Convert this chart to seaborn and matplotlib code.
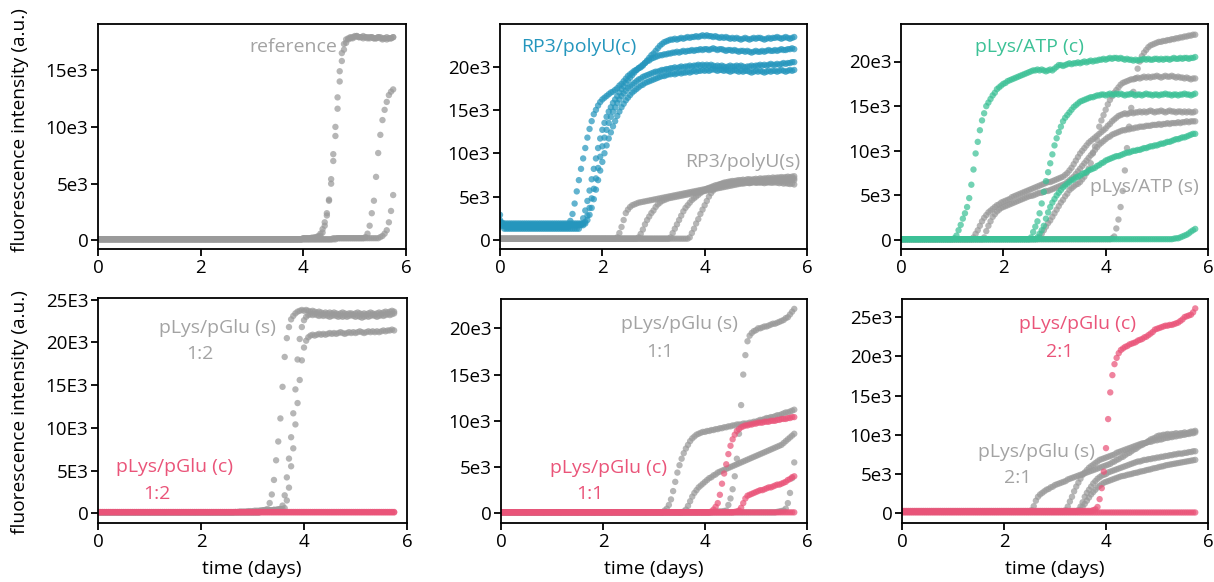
import numpy as np
import pandas as pd
import matplotlib
matplotlib.use("Agg")
import matplotlib.pyplot as plt
from matplotlib.ticker import FuncFormatter
import seaborn as sns

# ---------------- data (fluorescence in units of 1e3 a.u., hourly readings) -------------
N = 139                      # readings 0 .. 138 h  (0 .. 5.75 days)
hours = np.arange(N)

def series(base, tail, head=()):
    head = list(head)
    tail = list(tail)
    return np.array(head + [base] * (N - len(head) - len(tail)) + tail, dtype=float)

# panel 1: reference
ref_a = series(0.1, [0.2, 0.2, 0.2, 0.2, 0.25, 0.25, 0.3, 0.4, 0.6, 1.0, 1.6, 2.4, 3.5, 5.0, 7.0, 9.2, 11.6,
                     14.0, 15.8, 16.8, 17.4, 17.7, 17.8, 17.9, 18.0, 18.0, 17.9, 17.9, 18.0, 17.9, 17.8, 17.9,
                     17.9, 17.8, 17.8, 17.9, 17.9, 17.8, 17.8, 17.7, 17.8, 17.8, 17.9])
ref_b = series(0.1, [0.2, 0.2, 0.2, 0.2, 0.2, 0.25, 0.25, 0.3, 0.4, 0.7, 1.3, 2.2, 3.6, 5.4, 7.6, 10.0, 12.6,
                     14.9, 16.5, 17.3, 17.7, 17.8, 17.9, 17.8, 17.9, 18.0, 17.9, 17.9, 17.8, 17.9, 17.9, 17.8,
                     17.9, 17.8, 17.8, 17.9, 17.8, 17.7, 17.8, 17.9, 17.8, 17.8, 17.9])
ref_c = series(0.1, [0.2] * 15 + [0.3, 0.6, 1.3, 2.4, 3.5, 5.6, 7.7, 9.3, 10.6, 11.5, 12.2, 12.8, 13.1, 13.3])
ref_d = series(0.1, [0.2] * 20 + [0.3, 0.4, 0.6, 0.9, 1.6, 2.6, 4.0])

# panel 2: RP3/polyU coacervate (c) and solution (s)
rp_c1 = series(1.5, [2.2, 3.0, 4.2, 5.6, 6.9, 8.2, 9.4, 10.6, 11.8, 12.8, 13.7, 14.5, 15.0, 15.5, 15.9, 16.2,
                     16.4, 16.6, 16.8, 17.0, 17.1, 17.3, 17.5, 17.8, 18.0, 18.3, 18.6, 18.9, 19.1, 19.3, 19.5,
                     19.6, 19.8, 19.9, 20.1, 20.4, 20.7, 21.0, 21.3, 21.5, 21.8, 22.1, 22.4, 22.6, 22.8, 22.9,
                     23.0, 23.1,
                     23.1, 23.2, 23.1, 23.2, 23.3, 23.2, 23.3, 23.4, 23.3, 23.4, 23.4, 23.5, 23.4, 23.5, 23.6, 23.5,
                     23.6, 23.5, 23.5, 23.4, 23.5, 23.4, 23.3, 23.4, 23.3, 23.4, 23.3, 23.2, 23.3, 23.2, 23.3, 23.2,
                     23.1, 23.2, 23.3, 23.2, 23.1, 23.2, 23.3, 23.2, 23.3, 23.3, 23.2, 23.1, 23.2, 23.3, 23.2, 23.3,
                     23.3, 23.4, 23.3, 23.2, 23.3, 23.4, 23.3, 23.2, 23.3, 23.4], head=[2.9, 2.0, 1.7])
rp_c2 = series(1.3, [1.8, 2.5, 3.4, 4.5, 5.7, 7.0, 8.2, 9.4, 10.6, 11.7, 12.7,
                     13.5, 14.2, 14.8, 15.3, 15.8, 16.2, 16.6, 17.0, 17.4, 17.7, 18.1, 18.4, 18.7, 19.0, 19.3,
                     19.6, 19.8, 20.0, 20.2, 20.4, 20.6, 20.7, 20.9, 21.0, 21.1, 21.2, 21.3, 21.3, 21.4, 21.4,
                     21.5, 21.5, 21.6, 21.6, 21.7, 21.6, 21.7, 21.8, 21.7, 21.8, 21.8, 21.9, 21.8, 21.9, 21.9, 22.0,
                     21.9, 22.0, 22.0, 21.9, 22.0, 22.1, 22.0, 21.9, 22.0, 22.0, 21.9, 21.8, 21.9, 21.9, 21.8, 21.9,
                     21.8, 21.7, 21.8, 21.8, 21.7, 21.8, 21.7, 21.6, 21.7, 21.8, 21.7, 21.7, 21.8, 21.7, 21.8, 21.9,
                     21.8, 21.8, 21.9, 21.8, 21.9, 22.0, 21.9, 21.9, 22.0, 22.0, 22.1, 22.0], head=[2.3, 1.6])
rp_c3 = series(1.7, [2.1, 2.8, 3.7, 4.8, 5.9, 7.1, 8.3, 9.6, 10.8,
                     11.8, 12.7, 13.5, 14.2, 14.8, 15.3, 15.8, 16.2, 16.6, 16.9, 17.2, 17.5, 17.7, 17.9, 18.1,
                     18.3, 18.5, 18.6, 18.8, 18.9, 19.0, 19.1, 19.2, 19.3, 19.4, 19.4, 19.5, 19.6, 19.6, 19.7,
                     19.7, 19.8, 19.8, 19.9, 19.8, 19.9, 20.0, 19.9, 20.0, 20.0, 20.1, 20.0, 20.1, 20.1, 20.2, 20.1,
                     20.2, 20.1, 20.2, 20.1, 20.2, 20.1, 20.0, 20.1, 20.0, 20.1, 20.0, 19.9, 20.0, 20.1, 20.0, 20.0,
                     20.1, 20.0, 20.1, 20.0, 19.9, 20.0, 20.0, 20.1, 20.0, 20.1, 20.1, 20.2, 20.1, 20.2, 20.1, 20.2,
                     20.3, 20.2, 20.2, 20.3, 20.2, 20.3, 20.4, 20.3, 20.4, 20.4, 20.5, 20.5], head=[1.9])
rp_c4 = series(1.9, [2.3, 2.9, 3.7, 4.7, 5.8, 6.9, 8.0, 9.0,
                     10.0, 10.9, 11.7, 12.4, 13.1, 13.7, 14.3, 14.8, 15.3, 15.7, 16.1, 16.4, 16.7, 17.0, 17.2,
                     17.4, 17.6, 17.8, 17.9, 18.1, 18.2, 18.3, 18.4, 18.5, 18.6, 18.7, 18.8, 18.9, 18.9, 19.0,
                     19.1, 19.1, 19.2, 19.1, 19.2, 19.3, 19.2, 19.3, 19.3, 19.4, 19.3, 19.4, 19.5, 19.4, 19.5, 19.5,
                     19.6, 19.5, 19.6, 19.5, 19.6, 19.7, 19.6, 19.5, 19.6, 19.6, 19.5, 19.6, 19.5, 19.4, 19.5, 19.6,
                     19.5, 19.4, 19.5, 19.4, 19.5, 19.5, 19.4, 19.3, 19.4, 19.5, 19.4, 19.5, 19.4, 19.3, 19.4, 19.5,
                     19.4, 19.5, 19.5, 19.4, 19.5, 19.6, 19.5, 19.4, 19.5, 19.6, 19.5, 19.6], head=[2.1])
rp_s1 = series(0.15, [0.3, 0.8, 1.5, 2.3, 3.1, 3.5, 3.8, 4.0, 4.1, 4.2, 4.3, 4.35, 4.4, 4.45, 4.5, 4.55, 4.6,
                      4.65, 4.7, 4.75, 4.8, 4.85, 4.9, 4.95, 5.0, 5.05, 5.1, 5.15, 5.2, 5.25, 5.3, 5.35, 5.4,
                      5.45, 5.5, 5.55, 5.6, 5.65, 5.7, 5.75, 5.8, 5.85, 5.9, 5.95, 6.0, 6.05, 6.1, 6.15, 6.2,
                      6.25, 6.3, 6.35, 6.4, 6.45, 6.5, 6.55, 6.6, 6.6, 6.65, 6.7, 6.7, 6.75, 6.7, 6.8, 6.75,
                      6.8, 6.8, 6.85, 6.8, 6.9, 6.85, 6.9, 6.9, 6.95, 6.9, 7.0, 6.95, 7.0, 7.0, 7.05, 7.0,
                      7.1, 7.05, 7.1])
rp_s2 = series(0.15, [0.3, 0.7, 1.2, 1.8, 2.3, 2.7, 3.1, 3.4, 3.8, 4.1, 4.3, 4.5, 4.6, 4.7, 4.8, 4.85, 4.9,
                      4.95, 5.0, 5.05, 5.1, 5.15, 5.2, 5.25, 5.3, 5.35, 5.4, 5.45, 5.5, 5.55, 5.6, 5.65, 5.7,
                      5.75, 5.8, 5.85, 5.9, 5.95, 6.0, 6.05, 6.1, 6.15, 6.2, 6.25, 6.3, 6.35, 6.4, 6.45, 6.5,
                      6.5, 6.55, 6.6, 6.55, 6.6, 6.65, 6.6, 6.7, 6.65, 6.7, 6.7, 6.75, 6.7, 6.8, 6.75, 6.8,
                      6.8, 6.85, 6.8, 6.9, 6.85, 6.9, 6.9, 6.95, 6.9])
rp_s3 = series(0.15, [0.3, 0.8, 1.3, 1.8, 2.3, 2.8, 3.3, 3.7, 4.0, 4.3, 4.6, 4.8, 5.0, 5.2, 5.4, 5.6, 5.75,
                      5.9, 6.0, 6.1, 6.2, 6.3, 6.35, 6.4, 6.45, 6.5, 6.5, 6.55, 6.6, 6.55, 6.6, 6.6, 6.65, 6.6,
                      6.65, 6.7, 6.65, 6.6, 6.65, 6.7, 6.65, 6.6, 6.65, 6.6, 6.55, 6.6, 6.65, 6.6, 6.6, 6.65,
                      6.6, 6.55, 6.6, 6.5, 6.55, 6.5, 6.45, 6.5, 6.4])
rp_s4 = series(0.15, [0.3, 0.8, 1.3, 1.9, 2.4, 3.0, 3.5, 4.0, 4.5, 5.0, 5.4, 5.7, 6.0, 6.2, 6.4, 6.5, 6.6,
                      6.65, 6.7, 6.75, 6.8, 6.8, 6.85, 6.9, 6.9, 6.95, 6.9, 7.0, 7.0, 6.95, 7.0, 7.05, 7.0,
                      7.1, 7.05, 7.1, 7.1, 7.15, 7.1, 7.2, 7.15, 7.2, 7.2, 7.25, 7.2, 7.25, 7.3, 7.25, 7.3, 7.35])

# panel 3: pLys/ATP coacervate (c) and solution (s)
atp_c1 = series(0.1, [0.2, 0.5, 1.1, 1.7, 2.4, 3.0, 3.7, 4.7, 6.2, 7.9, 9.7, 11.0, 12.3, 13.4, 14.2, 15.0,
                      15.4, 15.8, 16.2, 16.5, 16.9, 17.1, 17.3, 17.5, 17.6, 17.8, 17.9, 18.0, 18.1, 18.2, 18.3,
                      18.4, 18.5, 18.6, 18.7, 18.8, 18.9, 19.0, 19.0, 19.1, 19.0, 19.1, 19.0, 18.9, 19.0, 19.1,
                      19.0, 19.2, 19.4, 19.6, 19.6, 19.5, 19.6, 19.7, 19.8, 19.7, 19.8, 19.8, 19.9, 19.8, 19.9,
                      20.0, 19.9, 20.0, 20.1, 20.0, 20.1, 20.1, 20.2, 20.2, 20.3, 20.2, 20.3, 20.4, 20.3, 20.4,
                      20.4, 20.3, 20.4, 20.3, 20.2, 20.3, 20.2, 20.2, 20.1, 20.2, 20.1, 20.2, 20.2, 20.3, 20.2,
                      20.3, 20.2, 20.2, 20.3, 20.3, 20.2, 20.3, 20.2, 20.3, 20.3, 20.2, 20.3, 20.4, 20.3, 20.3,
                      20.4, 20.3, 20.4, 20.4, 20.3, 20.4, 20.4, 20.5])
atp_c2 = series(0.1, [0.3, 0.9, 1.5, 2.1, 3.0, 4.1, 5.4, 6.6, 7.6, 8.6, 9.6, 10.6, 11.4, 12.1, 12.7, 13.3,
                      13.7, 14.0, 14.3, 14.6, 14.9, 15.1, 15.3, 15.5, 15.6, 15.7, 15.8, 15.9, 16.0, 16.0, 16.1,
                      16.2, 16.2, 16.3, 16.3, 16.2, 16.3, 16.4, 16.3, 16.3, 16.4, 16.3, 16.4, 16.3, 16.2, 16.3,
                      16.3, 16.4, 16.3, 16.2, 16.3, 16.3, 16.2, 16.3, 16.4, 16.3, 16.3, 16.2, 16.3, 16.3, 16.2,
                      16.3, 16.3, 16.4, 16.3, 16.3, 16.2, 16.3, 16.3, 16.2, 16.3, 16.3, 16.4, 16.3, 16.3, 16.2,
                      16.3, 16.4])
atp_c3 = series(0.1, [0.3, 0.7, 1.1, 1.6, 2.4, 3.1, 3.7, 4.2, 4.6, 5.0, 5.3, 5.6, 5.9, 6.1, 6.3, 6.5, 6.7,
                      6.8, 7.0, 7.1, 7.2, 7.4, 7.5, 7.6, 7.8, 7.9, 8.0, 8.1, 8.3, 8.4, 8.6, 8.7, 8.9, 9.0, 9.1,
                      9.2, 9.3, 9.4, 9.4, 9.5, 9.6, 9.7, 9.8, 9.8, 9.9, 10.0, 10.0, 10.1, 10.1, 10.2, 10.3,
                      10.3, 10.4, 10.5, 10.5, 10.6, 10.6, 10.7, 10.8, 10.8, 10.9, 11.0, 11.0, 11.1, 11.2, 11.3,
                      11.3, 11.4, 11.5, 11.5, 11.6, 11.7, 11.8, 11.9, 11.9])
atp_c4 = series(0.1, [0.15, 0.2, 0.2, 0.3, 0.4, 0.5, 0.6, 0.75, 0.95, 1.1, 1.25])
atp_s1 = series(0.1, [0.3, 0.7, 1.1, 1.6, 2.1, 2.5, 2.8, 3.1, 3.3, 3.5, 3.7, 3.9, 4.0, 4.2, 4.3, 4.4, 4.5,
                      4.6, 4.8, 4.9, 5.0, 5.1, 5.2, 5.3, 5.4, 5.5, 5.6, 5.7, 5.8, 5.9, 6.0, 6.1, 6.2, 6.3, 6.4,
                      6.5, 6.5, 6.6, 6.7, 6.8, 6.9, 7.0, 7.1, 7.3, 7.5, 7.8, 8.1, 8.5, 8.9, 9.3, 9.7, 10.0,
                      10.3, 10.6, 10.9, 11.1, 11.3, 11.5, 11.7, 11.9, 12.1, 12.3, 12.5, 12.8, 13.0, 13.3, 13.5,
                      13.7, 13.9, 14.0, 14.1, 14.2, 14.1, 14.2, 14.3, 14.2, 14.3, 14.3, 14.4, 14.3, 14.4, 14.3,
                      14.4, 14.5, 14.4, 14.3, 14.4, 14.4, 14.5, 14.4, 14.3, 14.4, 14.5, 14.4, 14.4, 14.3, 14.4,
                      14.4, 14.3, 14.4, 14.3, 14.4, 14.3, 14.3, 14.4])
atp_s2 = series(0.1, [0.3, 1.0, 1.6, 2.1, 2.6, 2.9, 3.2, 3.4, 3.6, 3.7, 3.8, 3.9, 4.0, 4.1, 4.2, 4.3, 4.4,
                      4.5, 4.6, 4.7, 4.8, 4.9, 4.95, 5.0, 5.1, 5.2, 5.3, 5.3, 5.4, 5.5, 5.5, 5.6, 5.7, 5.8, 5.9,
                      6.0, 6.1, 6.2, 6.3, 6.5, 6.7, 6.9, 7.1, 7.4, 7.7, 8.0, 8.3, 8.6, 8.9, 9.2, 9.5, 9.8, 10.1,
                      10.4, 10.7, 10.9, 11.1, 11.3, 11.5, 11.6, 11.8, 11.9, 12.0, 12.1, 12.2, 12.3, 12.3, 12.4,
                      12.4, 12.5, 12.5, 12.6, 12.6, 12.7, 12.7, 12.7, 12.8, 12.8, 12.8, 12.9, 12.9, 12.9, 13.0,
                      12.9, 13.0, 13.0, 13.1, 13.0, 13.1, 13.1, 13.1, 13.2, 13.1, 13.2, 13.2, 13.3, 13.2, 13.3,
                      13.3, 13.3])
atp_s3 = series(0.1, [0.3, 0.7, 1.1, 1.5, 1.9, 2.2, 2.6, 3.0, 3.4, 3.8, 4.2, 4.5, 4.9, 5.2, 5.6, 5.8, 6.0,
                      6.2, 6.3, 6.5, 6.8, 7.1, 7.5, 8.0, 8.6, 9.7, 10.5, 11.2, 12.7, 13.4, 14.0, 14.6, 15.2,
                      15.7, 16.1, 16.5, 16.8, 17.1, 17.4, 17.6, 17.7, 17.8, 17.9, 18.0, 18.0, 18.1, 18.2, 18.1,
                      18.2, 18.3, 18.2, 18.3, 18.2, 18.3, 18.3, 18.4, 18.3, 18.2, 18.3, 18.4, 18.3, 18.3, 18.4,
                      18.3, 18.2, 18.3, 18.2, 18.2, 18.1, 18.2, 18.1, 18.0, 18.1, 18.1])
atp_s4 = series(0.1, [0.2, 0.4, 1.3, 2.3, 3.7, 5.5, 7.8, 10.3, 12.7, 14.8, 16.6, 18.1, 19.2, 20.0, 20.6,
                      21.0, 21.3, 21.6, 21.8, 21.9, 22.0, 22.1, 22.2, 22.2, 22.3, 22.3, 22.4, 22.4, 22.5, 22.5,
                      22.6, 22.6, 22.7, 22.7, 22.8, 22.8, 22.9, 22.9, 23.0, 23.0])

# panel 4: pLys/pGlu 1:2
g12_s1 = series(0.1, [0.15, 0.15, 0.2, 0.2, 0.2, 0.2, 0.25, 0.25, 0.25, 0.3, 0.3, 0.3, 0.35, 0.35, 0.4,
                      0.5, 1.2, 2.2, 3.9, 6.2, 8.4, 11.1, 14.8, 18.3, 20.5, 21.8, 22.7, 23.1, 23.4, 23.6, 23.7,
                      23.8, 23.7, 23.8, 23.7, 23.6, 23.7, 23.6, 23.5, 23.6, 23.5, 23.4, 23.5, 23.4, 23.5, 23.4,
                      23.5, 23.4, 23.3, 23.4, 23.5, 23.4, 23.3, 23.4, 23.4, 23.3, 23.4, 23.5, 23.4, 23.3, 23.4,
                      23.3, 23.4, 23.5, 23.4, 23.3, 23.4, 23.5, 23.4, 23.5, 23.6, 23.5, 23.6, 23.7, 23.6])
g12_s2 = series(0.1, [0.25, 0.3, 0.3, 0.3, 0.35, 0.35, 0.4, 0.4, 0.45, 0.5, 0.9, 2.1, 4.2, 6.4, 8.9, 11.7,
                      14.5, 18.0, 20.4, 21.8, 22.6, 23.0, 23.2, 23.3, 23.2, 23.3, 23.2, 23.1, 23.2, 23.1, 23.2,
                      23.1, 23.0, 23.1, 23.2, 23.1, 23.0, 23.1, 23.0, 23.1, 23.0, 23.1, 23.2, 23.1, 23.0, 23.1,
                      23.0, 22.9, 23.0, 23.1, 23.0, 23.1, 23.2, 23.1, 23.0, 23.1, 23.2, 23.1, 23.2, 23.3, 23.2,
                      23.3, 23.4])
g12_s3 = series(0.1, [0.25, 0.3, 0.3, 0.3, 0.35, 0.35, 0.4, 0.4, 0.45, 0.45, 0.5, 0.6, 1.5, 3.0, 5.5, 7.6,
                      10.4, 12.9, 15.6, 17.9, 19.4, 20.2, 20.6, 20.8, 20.9, 20.8, 20.9, 21.0, 20.9, 21.0, 20.9,
                      21.0, 21.1, 21.0, 21.1, 21.0, 21.1, 21.2, 21.1, 21.0, 21.1, 21.2, 21.1, 21.2, 21.1, 21.2,
                      21.3, 21.2, 21.1, 21.2, 21.3, 21.2, 21.3, 21.2, 21.3, 21.2, 21.3, 21.4, 21.3, 21.4, 21.4,
                      21.5, 21.4])
g12_c1 = series(0.1, [])
g12_c2 = series(0.15, [])

# panel 5: pLys/pGlu 1:1
g11_s1 = series(0.1, [0.3, 0.5, 0.9, 1.5, 2.4, 3.4, 4.4, 5.2, 5.9, 6.5, 7.0, 7.4, 7.8, 8.1, 8.3, 8.5, 8.6,
                      8.7, 8.8, 8.8, 8.9, 8.9, 9.0, 9.0, 9.1, 9.1, 9.2, 9.2, 9.3, 9.3, 9.4, 9.4, 9.5, 9.5, 9.6,
                      9.6, 9.6, 9.7, 9.7, 9.7, 9.8, 9.8, 9.9, 9.9, 10.0, 10.1, 10.1, 10.2, 10.3, 10.3, 10.4,
                      10.4, 10.5, 10.6, 10.6, 10.7, 10.8, 10.9, 10.9, 11.0, 11.1, 11.2])
g11_s2 = series(0.1, [0.2, 0.4, 0.8, 1.3, 1.8, 2.2, 2.5, 2.8, 3.0, 3.2, 3.4, 3.6, 3.8, 3.9, 4.1, 4.2, 4.4,
                      4.5, 4.6, 4.7, 4.8, 4.9, 5.0, 5.1, 5.2, 5.3, 5.4, 5.5, 5.6, 5.7, 5.8, 5.9, 6.0, 6.1, 6.2,
                      6.3, 6.4, 6.5, 6.6, 6.7, 6.8, 6.9, 7.0, 7.1, 7.2, 7.3, 7.4, 7.6, 7.8, 8.0, 8.2, 8.4, 8.6])
g11_s3 = series(0.1, [0.15, 0.15, 0.2, 0.2, 0.2, 0.25, 0.3, 0.9, 1.6, 2.6, 4.0, 5.9, 8.6, 11.7, 15.0, 17.1,
                      18.6, 19.2, 19.5, 19.7, 19.8, 20.0, 20.0, 20.1, 20.2, 20.2, 20.3, 20.4, 20.5, 20.5, 20.6,
                      20.7, 20.8, 20.9, 21.1, 21.2, 21.5, 21.8, 22.1])
g11_s4 = series(0.1, [0.15, 0.2, 0.25, 0.3, 0.5, 1.1, 2.2, 3.8, 5.5])
g11_c1 = series(0.1, [])
g11_c2 = series(0.1, [0.2, 0.4, 0.7, 1.1, 2.0, 3.2, 4.3, 5.3, 6.4, 7.3, 8.0, 8.5, 8.9, 9.1, 9.3, 9.4, 9.5,
                      9.5, 9.6, 9.6, 9.7, 9.7, 9.8, 9.8, 9.8, 9.9, 9.9, 9.9, 10.0, 10.0, 10.0, 10.1, 10.1, 10.2,
                      10.2, 10.2, 10.3, 10.3, 10.4, 10.4])
g11_c3 = series(0.1, [0.15, 0.2, 0.3, 0.6, 1.1, 1.6, 1.9, 2.0, 2.1, 2.2, 2.3, 2.4, 2.5, 2.5, 2.6, 2.7, 2.8,
                      2.8, 2.9, 3.0, 3.1, 3.1, 3.2, 3.3, 3.4, 3.6, 3.7, 3.9, 4.0])

# panel 6: pLys/pGlu 2:1
g21_c1 = series(0.3, [0.3, 0.3, 0.4, 0.5, 0.8, 1.8, 3.2, 5.3, 8.3, 12.0, 15.4, 17.6, 19.0, 19.8, 20.4, 20.8,
                      21.0, 21.2, 21.3, 21.5, 21.6, 21.7, 21.8, 22.0, 22.1, 22.2, 22.4, 22.5, 22.7, 22.9, 23.1,
                      23.4, 23.5, 23.6, 23.7, 23.8, 23.9, 23.9, 24.0, 24.0, 24.1, 24.2, 24.3, 24.5, 24.7, 25.0,
                      25.1, 25.2, 25.3, 25.6, 26.1])
g21_c2 = series(0.1, [])
g21_s1 = series(0.2, [0.2, 0.4, 0.9, 1.6, 2.1, 2.4, 2.6, 2.8, 3.0, 3.1, 3.3, 3.4, 3.6, 3.7, 3.8, 3.9, 4.0,
                      4.1, 4.3, 4.4, 4.5, 4.6, 4.7, 4.8, 4.9, 5.0, 5.1, 5.2, 5.3, 5.4, 5.5, 5.6, 5.7, 5.8, 5.9,
                      6.0, 6.1, 6.2, 6.3, 6.5, 6.6, 6.8, 6.9, 7.1, 7.2, 7.4, 7.6, 7.7, 7.9, 8.1, 8.2, 8.4, 8.6,
                      8.7, 8.9, 9.0, 9.2, 9.4, 9.5, 9.6, 9.8, 9.9, 9.9, 10.0, 10.0, 10.1, 10.0, 10.1, 10.1, 10.2,
                      10.1, 10.2, 10.2, 10.3, 10.2, 10.3, 10.4, 10.4, 10.5])
g21_s2 = series(0.2, [0.2, 0.4, 0.85, 1.5, 2.1, 2.8, 3.4, 3.9, 4.4, 4.9, 5.2, 5.5, 5.8, 6.0, 6.2, 6.4, 6.6,
                      6.8, 6.9, 7.0, 7.1, 7.2, 7.3, 7.4, 7.5, 7.7, 7.8, 7.9, 8.0, 8.1, 8.2, 8.3, 8.4, 8.5, 8.6,
                      8.7, 8.8, 8.9, 8.9, 9.0, 9.1, 9.1, 9.2, 9.3, 9.3, 9.4, 9.4, 9.5, 9.6, 9.6, 9.7, 9.7, 9.8,
                      9.8, 9.9, 9.9, 10.0, 10.0, 10.1, 10.1, 10.2, 10.2, 10.3])
g21_s3 = series(0.2, [0.2, 0.4, 0.85, 1.4, 2.1, 2.6, 3.0, 3.4, 3.8, 4.1, 4.4, 4.6, 4.8, 4.9, 5.0, 5.2, 5.3,
                      5.4, 5.5, 5.6, 5.7, 5.8, 5.9, 6.0, 6.1, 6.2, 6.3, 6.4, 6.5, 6.6, 6.6, 6.7, 6.8, 6.8, 6.9,
                      6.9, 7.0, 7.0, 7.1, 7.1, 7.2, 7.2, 7.3, 7.3, 7.4, 7.4, 7.5, 7.5, 7.6, 7.6, 7.6, 7.7, 7.7,
                      7.8, 7.8, 7.9, 7.9])
g21_s4 = series(0.2, [0.2, 0.4, 0.8, 1.2, 1.6, 2.0, 2.4, 2.7, 3.0, 3.3, 3.5, 3.7, 3.9, 4.0, 4.1, 4.2, 4.3,
                      4.4, 4.5, 4.6, 4.7, 4.75, 4.8, 4.9, 4.95, 5.0, 5.1, 5.15, 5.2, 5.3, 5.35, 5.4, 5.5, 5.55,
                      5.6, 5.7, 5.75, 5.8, 5.9, 5.95, 6.0, 6.1, 6.15, 6.2, 6.25, 6.3, 6.35, 6.4, 6.45, 6.5,
                      6.55, 6.6, 6.65, 6.7, 6.75, 6.8])

# ---------------- styling -------------------------------------------------------------
GRAY, BLUE, GREEN, PINK = "#9a9a9a", "#2596bd", "#3cc196", "#ea5479"
TXT_GRAY = "#a3a3a3"

panels = [
    dict(series=[("s", ref_a), ("s", ref_b), ("s", ref_c), ("s", ref_d)], color=BLUE,
         ylim=(-0.75, 19.06), yticks=[0, 5, 10, 15], E="e",
         box=(98, 24, 406, 249)),
    dict(series=[("s", rp_s1), ("s", rp_s2), ("s", rp_s3), ("s", rp_s4),
                 ("c", rp_c1), ("c", rp_c2), ("c", rp_c3), ("c", rp_c4)], color=BLUE,
         ylim=(-1.04, 24.9), yticks=[0, 5, 10, 15, 20], E="e",
         box=(500, 24, 807, 249)),
    dict(series=[("s", atp_s1), ("s", atp_s2), ("s", atp_s3), ("s", atp_s4),
                 ("c", atp_c1), ("c", atp_c2), ("c", atp_c3), ("c", atp_c4)], color=GREEN,
         ylim=(-1.0, 24.2), yticks=[0, 5, 10, 15, 20], E="e",
         box=(901, 24, 1208, 249)),
    dict(series=[("s", g12_s1), ("s", g12_s2), ("s", g12_s3), ("c", g12_c1), ("c", g12_c2)], color=PINK,
         ylim=(-1.14, 25.2), yticks=[0, 5, 10, 15, 20, 25], E="E",
         box=(98, 298, 407, 523)),
    dict(series=[("s", g11_s1), ("s", g11_s2), ("s", g11_s3), ("s", g11_s4),
                 ("c", g11_c1), ("c", g11_c2), ("c", g11_c3)], color=PINK,
         ylim=(-1.05, 23.17), yticks=[0, 5, 10, 15, 20], E="e",
         box=(501, 299, 807, 523)),
    dict(series=[("s", g21_s1), ("s", g21_s2), ("s", g21_s3), ("s", g21_s4),
                 ("c", g21_c2), ("c", g21_c1)], color=PINK,
         ylim=(-1.24, 27.3), yticks=[0, 5, 10, 15, 20, 25], E="e",
         box=(902, 299, 1208, 523)),
]

# annotations: (panel, text, x_days, y_k, color, ha)
labels = [
    (0, "reference", 4.66, 17.0, TXT_GRAY, "right"),
    (1, "RP3/polyU(c)", 0.42, 22.3, BLUE, "left"),
    (1, "RP3/polyU(s)", 5.86, 9.0, TXT_GRAY, "right"),
    (2, "pLys/ATP (c)", 1.44, 21.6, GREEN, "left"),
    (2, "pLys/ATP (s)", 5.82, 5.9, TXT_GRAY, "right"),
    (3, "pLys/pGlu (s)", 2.32, 21.7, TXT_GRAY, "center"),
    (3, "1:2", 1.98, 18.7, TXT_GRAY, "center"),
    (3, "pLys/pGlu (c)", 1.48, 5.4, PINK, "center"),
    (3, "1:2", 1.15, 2.3, PINK, "center"),
    (4, "pLys/pGlu (s)", 3.49, 20.5, TXT_GRAY, "center"),
    (4, "1:1", 3.12, 17.4, TXT_GRAY, "center"),
    (4, "pLys/pGlu (c)", 2.10, 4.9, PINK, "center"),
    (4, "1:1", 1.75, 2.1, PINK, "center"),
    (5, "pLys/pGlu (c)", 3.45, 24.1, PINK, "center"),
    (5, "2:1", 3.10, 20.6, PINK, "center"),
    (5, "pLys/pGlu (s)", 2.63, 7.8, TXT_GRAY, "center"),
    (5, "2:1", 2.27, 4.5, TXT_GRAY, "center"),
]

sns.set_theme(style="white")
plt.rcParams["font.family"] = ["Open Sans", "DejaVu Sans"]

W, H = 1214, 582
fig = plt.figure(figsize=(W / 100, H / 100), dpi=100)

days = hours / 24.0
axes = []
for p in panels:
    l, t, r, b = p["box"]
    ax = fig.add_axes([l / W, (H - b) / H, (r - l) / W, (b - t) / H])
    axes.append(ax)
    frames = []
    # solution (gray) first, coloured on top
    ordered = [s for s in p["series"] if s[0] == "s"] + [s for s in p["series"] if s[0] == "c"]
    for k, (grp, vals) in enumerate(ordered):
        frames.append(pd.DataFrame({"t": days, "y": vals * 1000.0, "grp": grp, "rep": k}))
    df = pd.concat(frames, ignore_index=True)
    pal = {"s": GRAY, "c": p["color"]}
    if p is panels[0]:
        pal = {"s": GRAY}
    sns.scatterplot(data=df, x="t", y="y", hue="grp", palette=pal, s=21, alpha=0.72,
                    linewidth=0, legend=False, ax=ax)
    ax.set_xlim(0, 6)
    ax.set_ylim(p["ylim"][0] * 1000, p["ylim"][1] * 1000)
    ax.set_xticks([0, 2, 4, 6])
    ax.set_yticks([v * 1000 for v in p["yticks"]])
    E = p["E"]
    ax.yaxis.set_major_formatter(FuncFormatter(lambda v, pos, E=E: "0" if abs(v) < 1 else f"{int(round(v / 1000))}{E}3"))
    ax.set_xlabel("")
    ax.set_ylabel("")
    for sp in ax.spines.values():
        sp.set_color("black")
        sp.set_linewidth(1.3)
    ax.tick_params(axis="both", direction="out", length=5, width=1.3, color="black",
                   labelsize=13.5, labelcolor="black", pad=2, left=True, bottom=True)

for (pi, txt, x, y, c, ha) in labels:
    axes[pi].text(x, y * 1000, txt, color=c, ha=ha, va="center", fontsize=14)

for yc in (130, 412):
    fig.text(20 / W, 1 - yc / H, "fluorescence intensity (a.u.)", rotation=90,
             ha="center", va="center", fontsize=13.8, color="black")
for xc in (252, 654, 1055):
    fig.text(xc / W, 1 - 569 / H, "time (days)", ha="center", va="center", fontsize=14, color="black")

fig.savefig("out.png", dpi=100, facecolor="white")
